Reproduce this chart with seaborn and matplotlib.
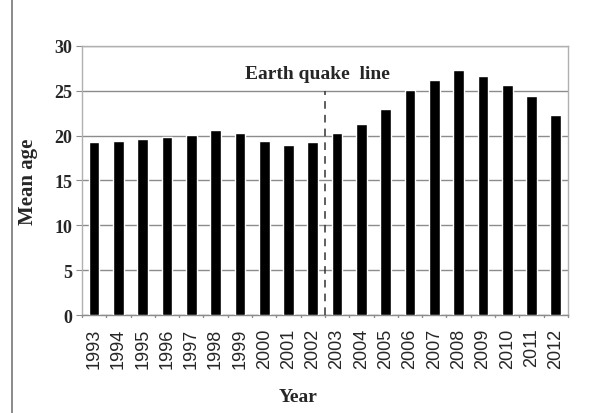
import matplotlib
matplotlib.use("Agg")
import matplotlib.pyplot as plt
import seaborn as sns
import pandas as pd
from matplotlib.lines import Line2D

# data
years = [str(y) for y in range(1993, 2013)]
mean_age = [19.3, 19.45, 19.6, 19.8, 20.1, 20.6, 20.35, 19.45, 18.95, 19.3,
            20.35, 21.35, 23.0, 25.05, 26.2, 27.3, 26.7, 25.7, 24.4, 22.35]
y_ticks = [0, 5, 10, 15, 20, 25, 30]

df = pd.DataFrame({"Year": years, "Mean age": mean_age})

sns.set_style("white")
serif = ["Liberation Serif", "DejaVu Serif"]

fig = plt.figure(figsize=(5.91, 4.14), dpi=100)
ax = fig.add_axes([0.1387, 0.2367, 0.8223, 0.6498])

sns.barplot(data=df, x="Year", y="Mean age", color="black", width=0.44,
            saturation=1, ax=ax, zorder=3)

ax.set_ylim(0, 30)
ax.set_yticks(y_ticks)
ax.set_xlim(-0.5, len(years) - 0.5)
ax.yaxis.grid(True, color="#8c8c8c", linewidth=1.0, zorder=0)
ax.set_axisbelow(True)

for s in ax.spines.values():
    s.set_color("#b0b0b0")
    s.set_linewidth(1.0)
ax.spines["bottom"].set_color("#8c8c8c")

# tick marks between categories
ax.tick_params(axis="x", length=0, pad=9)
for b in range(len(years) + 1):
    ax.plot([b - 0.5, b - 0.5], [0, -0.25], color="#8c8c8c", lw=1,
            clip_on=False, zorder=2)
ax.tick_params(axis="y", length=4, color="#8c8c8c", left=True, pad=3)

for lab in ax.get_xticklabels():
    lab.set_rotation(90)
    lab.set_fontsize(13)
    lab.set_family(["Liberation Sans", "DejaVu Sans"])
for lab in ax.get_yticklabels():
    lab.set_fontsize(13)
    lab.set_family(serif)
    lab.set_fontweight("bold")

ax.set_xlabel("Year", fontsize=14, fontweight="bold", family=serif, labelpad=12)
ax.xaxis.set_label_coords(0.445, -0.27)
ax.set_ylabel("Mean age", fontsize=15, fontweight="bold", family=serif, labelpad=12)

# earthquake marker
ax.axvline(9.5, ymin=0, ymax=25 / 30, color="#333333", lw=1.1,
           linestyle=(0, (5, 4)), zorder=4)
ax.text(9.2, 26.9, "Earth quake  line", ha="center", va="center",
        fontsize=14, fontweight="bold", family=serif)

# chart area border on the left
fig.add_artist(Line2D([0.02, 0.02], [0, 1], color="#777777", lw=1.2,
                      transform=fig.transFigure))

plt.savefig("out.png", dpi=100)
